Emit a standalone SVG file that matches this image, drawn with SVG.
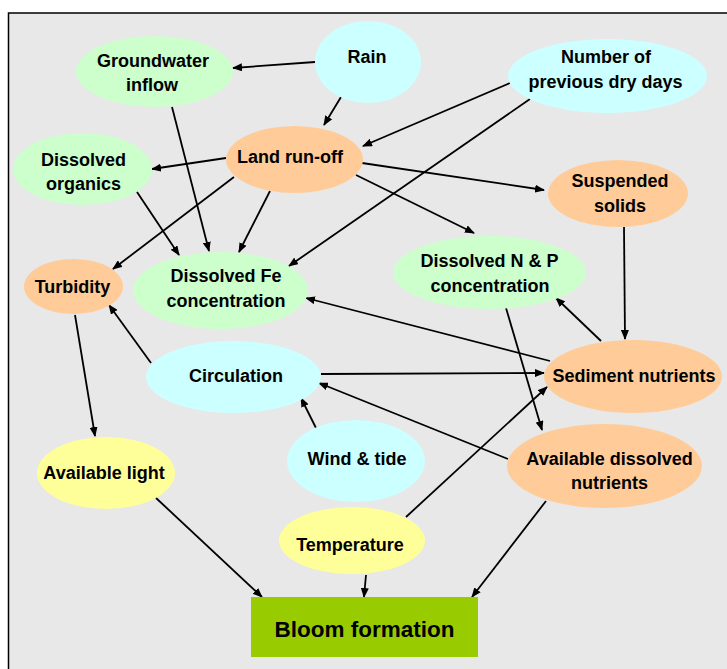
<svg xmlns="http://www.w3.org/2000/svg" width="727" height="669" viewBox="0 0 727 669">
<defs>
<marker id="ah" markerUnits="userSpaceOnUse" markerWidth="10" markerHeight="8" refX="9" refY="4" orient="auto">
<path d="M0,0 L10,4 L0,8 Z" fill="#000"/>
</marker>
<style>
.e{stroke:none}
.g{fill:#ccffcc}.b{fill:#ccffff}.o{fill:#ffcc99}.y{fill:#ffff99}
text{font-family:"Liberation Sans",Arial,sans-serif;font-weight:bold;font-size:18px;fill:#000;text-anchor:middle}
#connectors line{stroke:#000;stroke-width:1.8;marker-end:url(#ah)}
</style>
</defs>
<rect x="0" y="0" width="727" height="669" fill="#fff"/>
<rect x="8.5" y="13" width="730" height="670" fill="#e8e8e8" stroke="#000" stroke-width="1.5"/>
<g id="connectors">
<line x1="315" y1="62" x2="233" y2="68"/>
<line x1="341" y1="97" x2="324" y2="125"/>
<line x1="510" y1="83" x2="363" y2="146"/>
<line x1="530" y1="99" x2="289" y2="266"/>
<line x1="226" y1="158" x2="152" y2="169"/>
<line x1="362" y1="163" x2="544" y2="190"/>
<line x1="356" y1="175" x2="474" y2="233"/>
<line x1="234" y1="177" x2="113" y2="269"/>
<line x1="270" y1="191" x2="239" y2="252"/>
<line x1="172" y1="107" x2="209" y2="251"/>
<line x1="137" y1="192" x2="179" y2="255"/>
<line x1="624" y1="227" x2="625" y2="339"/>
<line x1="601" y1="341" x2="556" y2="298"/>
<line x1="550" y1="361" x2="306" y2="298"/>
<line x1="321" y1="374" x2="544" y2="373"/>
<line x1="151" y1="363" x2="109" y2="305"/>
<line x1="508" y1="459" x2="319" y2="383"/>
<line x1="317" y1="430" x2="301" y2="398"/>
<line x1="506" y1="308" x2="542" y2="430"/>
<line x1="406" y1="517" x2="547" y2="387"/>
<line x1="75" y1="315" x2="95" y2="436"/>
<line x1="156" y1="498" x2="262" y2="597"/>
<line x1="366" y1="575" x2="364" y2="597"/>
<line x1="546" y1="501" x2="472" y2="597"/>
</g>
<g id="groundwater"><ellipse class="e g" cx="154.5" cy="71.5" rx="78.5" ry="35.5"/><text x="153" y="67">Groundwater</text><text x="152" y="91">inflow</text></g>
<g id="rain"><ellipse class="e b" cx="368" cy="62" rx="53" ry="41"/><text x="367" y="63">Rain</text></g>
<g id="drydays"><ellipse class="e b" cx="607.5" cy="76" rx="99.5" ry="37"/><text x="606" y="63">Number of</text><text x="605.5" y="88">previous dry days</text></g>
<g id="runoff"><ellipse class="e o" cx="294.5" cy="159.5" rx="68.5" ry="33.5"/><text x="290" y="163">Land run-off</text></g>
<g id="organics"><ellipse class="e g" cx="82.5" cy="169" rx="69.5" ry="36"/><text x="83.5" y="166">Dissolved</text><text x="83.5" y="190">organics</text></g>
<g id="suspended"><ellipse class="e o" cx="618" cy="193.5" rx="70" ry="33.5"/><text x="620" y="187">Suspended</text><text x="620" y="212">solids</text></g>
<g id="turbidity"><ellipse class="e o" cx="73.5" cy="286.5" rx="49.5" ry="27.5"/><text x="72.5" y="293">Turbidity</text></g>
<g id="fe"><ellipse class="e g" cx="220.5" cy="290.5" rx="87.5" ry="38.5"/><text x="226" y="282">Dissolved Fe</text><text x="226" y="307">concentration</text></g>
<g id="np"><ellipse class="e g" cx="489.5" cy="272.5" rx="96.5" ry="36.5"/><text x="489.5" y="267">Dissolved N &amp; P</text><text x="490" y="292">concentration</text></g>
<g id="circulation"><ellipse class="e b" cx="233.5" cy="377" rx="87.5" ry="36"/><text x="236" y="382">Circulation</text></g>
<g id="sediment"><ellipse class="e o" cx="633" cy="376.5" rx="89" ry="36.5"/><text x="634" y="382">Sediment nutrients</text></g>
<g id="light"><ellipse class="e y" cx="106" cy="473" rx="69" ry="36"/><text x="104" y="479">Available light</text></g>
<g id="wind"><ellipse class="e b" cx="356" cy="461" rx="69" ry="41"/><text x="357" y="465">Wind &amp; tide</text></g>
<g id="availnut"><ellipse class="e o" cx="604.5" cy="466" rx="97.5" ry="42"/><text x="609.5" y="465">Available dissolved</text><text x="609.5" y="489">nutrients</text></g>
<g id="temperature"><ellipse class="e y" cx="352" cy="540.5" rx="73" ry="33.5"/><text x="350" y="551">Temperature</text></g>
<g id="bloom"><rect x="251" y="597" width="227" height="60" fill="#99cc00"/><text x="364.5" y="637" style="font-size:22.5px">Bloom formation</text></g>
</svg>
